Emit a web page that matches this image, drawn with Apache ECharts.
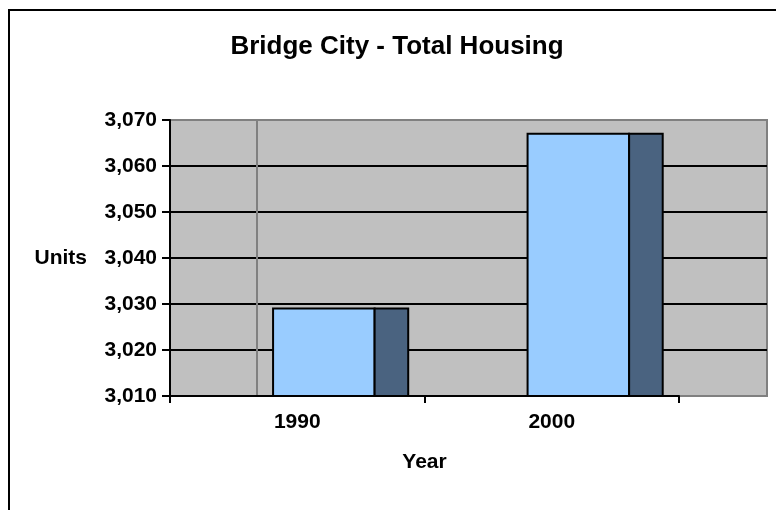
<!DOCTYPE html>
<html>
<head>
<meta charset="utf-8">
<script src="https://cdn.jsdelivr.net/npm/echarts@6/dist/echarts.min.js"></script>
<style>
html,body{margin:0;padding:0;background:#fff;}
#chart{width:776px;height:510px;}
</style>
</head>
<body>
<div id="chart"></div>
<script>
const titleText = 'Bridge City - Total Housing';
const categories = ['1990', '2000'];
const housingUnits = [3029, 3067];
const yMin = 3010;
const yMax = 3070;
const yStep = 10;
const xAxisName = 'Year';
const yAxisName = 'Units';

const FONT = "'Liberation Sans', Arial, sans-serif";
const chart = echarts.init(document.getElementById('chart'), null, {renderer: 'canvas'});

const fmt = v => v.toLocaleString('en-US');

const option = {
  animation: false,
  backgroundColor: '#ffffff',
  title: {
    text: titleText,
    left: 397,
    top: 34,
    textAlign: 'center',
    padding: 0,
    textStyle: {fontFamily: FONT, fontSize: 26, fontWeight: 'bold', color: '#000'}
  },
  grid: [
    {left: 170, top: 120, width: 597, height: 276, show: true,
     backgroundColor: '#C0C0C0', borderColor: '#808080', borderWidth: 2},
    {left: 170, top: 120, width: 509, height: 276}
  ],
  xAxis: [
    {gridIndex: 0, type: 'category', data: categories, show: false},
    {gridIndex: 1, type: 'category', data: categories,
     name: xAxisName, nameLocation: 'middle', nameGap: 56,
     nameTextStyle: {fontFamily: FONT, fontSize: 21, fontWeight: 'bold', color: '#000'},
     axisLine: {show: true, lineStyle: {color: '#000', width: 2}},
     axisTick: {show: true, length: 7, lineStyle: {color: '#000', width: 2}},
     axisLabel: {margin: 16, fontFamily: FONT, fontSize: 21, fontWeight: 'bold', color: '#000'},
     splitLine: {show: false}}
  ],
  yAxis: [
    {gridIndex: 0, type: 'value', min: yMin, max: yMax, interval: yStep,
     name: yAxisName, nameLocation: 'middle', nameGap: 83, nameRotate: 0,
     nameTextStyle: {fontFamily: FONT, fontSize: 21, fontWeight: 'bold', color: '#000', align: 'right', verticalAlign: 'middle'},
     axisLine: {show: true, lineStyle: {color: '#000', width: 2}},
     axisTick: {show: true, length: 8, lineStyle: {color: '#000', width: 2}},
     axisLabel: {margin: 13, formatter: fmt, fontFamily: FONT, fontSize: 21, fontWeight: 'bold', color: '#000'},
     splitLine: {show: true, showMinLine: false, showMaxLine: false, lineStyle: {color: '#000', width: 2}}},
    {gridIndex: 1, type: 'value', min: yMin, max: yMax, interval: yStep, show: false,
     splitLine: {show: false}}
  ],
  graphic: [
    {type: 'line', silent: true, z: 1,
     shape: {x1: 257, y1: 121, x2: 257, y2: 395},
     style: {stroke: '#808080', lineWidth: 2}},
    {type: 'rect', silent: true, z: 10,
     shape: {x: 9, y: 10, width: 900, height: 700},
     style: {fill: null, stroke: '#000', lineWidth: 2}}
  ],
  series: [{
    type: 'custom',
    xAxisIndex: 1,
    yAxisIndex: 1,
    z: 5,
    data: categories.map((c, i) => [i, housingUnits[i]]),
    renderItem: function (params, api) {
      const cat = api.value(0);
      const val = api.value(1);
      const top = api.coord([cat, val]);
      const base = api.coord([cat, yMin]);
      const bw = api.size([1, 0])[0];
      const start = top[0] - bw / 2;
      const x0 = start + 0.405 * bw;
      const x1 = start + 0.804 * bw;
      const x2 = start + 0.936 * bw;
      const h = base[1] - top[1];
      return {
        type: 'group',
        children: [
          {type: 'rect', shape: {x: x0, y: top[1], width: x1 - x0, height: h},
           style: {fill: '#99CCFF', stroke: '#000', lineWidth: 2}},
          {type: 'rect', shape: {x: x1, y: top[1], width: x2 - x1, height: h},
           style: {fill: '#4A6380', stroke: '#000', lineWidth: 2}}
        ]
      };
    }
  }]
};
chart.setOption(option);
</script>
</body>
</html>
